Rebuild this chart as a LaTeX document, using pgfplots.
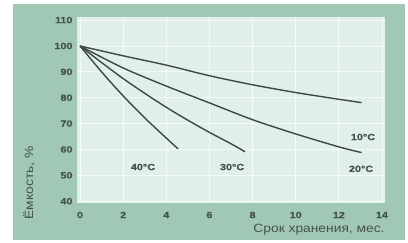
\documentclass[border=0pt]{standalone}
\usepackage{pgfplots}
\pgfplotsset{compat=1.18}
\usepackage{fontspec}
\setmainfont{Liberation Sans}
\newfontfamily\widesans[FakeStretch=1.15]{Liberation Sans}
\newfontfamily\widebold[FakeStretch=1.2,FakeBold=0.5]{Liberation Sans Bold}
\definecolor{outerg}{RGB}{160,200,180}
\definecolor{innerg}{RGB}{224,240,232}
\definecolor{txtg}{RGB}{70,82,76}
\definecolor{lineg}{RGB}{62,72,68}
\begin{document}
\begin{tikzpicture}
\useasboundingbox (0,0) rectangle (408bp,243bp);
\fill[white] (0,0) rectangle (408bp,243bp);
\fill[outerg] (13bp,3bp) rectangle (405bp,239bp);
\begin{axis}[
  at={(77bp,40bp)}, anchor=south west,
  scale only axis, width=308bp, height=186bp,
  xmin=-0.14, xmax=14.14, ymin=39.3, ymax=111.2,
  xtick={0,2,...,14}, ytick={40,50,...,110},
  axis background/.style={fill=innerg},
  axis line style={draw=none},
  major tick length=0pt,
  grid=major,
  major grid style={white, line width=0.8bp, opacity=0.7},
  /pgf/number format/assume math mode=true,
  tick label style={font=\fontsize{9bp}{10bp}\selectfont\widebold, text=txtg},
  xticklabel style={anchor=center, yshift=-12bp},
  yticklabel style={anchor=east, xshift=-1bp},
  xlabel={Срок хранения, мес.},
  ylabel={Ёмкость, \%},
  label style={font=\fontsize{12bp}{13bp}\selectfont\widesans, text=txtg},
  xlabel style={at={(axis description cs:1.01,-0.145)}, anchor=east},
  ylabel style={at={(axis description cs:-0.156,0.108)}, anchor=center},
  clip=false,
]
\addplot[lineg, line width=1.4bp, smooth] coordinates {
 (0,100) (2,96.2) (4,92.6) (6,88.5) (8,85) (10,82) (12,79.4) (13.05,78.1)};
\addplot[lineg, line width=1.4bp, smooth] coordinates {
 (0,100) (2,91.5) (4,84.5) (6,78) (8,71.5) (10,66) (12,61) (13.05,58.8)};
\addplot[lineg, line width=1.4bp, smooth] coordinates {
 (0,100) (1,93.6) (2,87.4) (3,81.7) (4,76.3) (5,71.3) (6,66.6) (7,62.2) (7.65,59.1)};
\addplot[lineg, line width=1.4bp, smooth] coordinates {
 (0,100) (1,90) (2,80.7) (3,72.2) (4,64.4) (4.55,60.2)};
\node[font=\fontsize{9bp}{10bp}\selectfont\widebold, text=txtg] at (axis cs:13.12,64.8) {10°C};
\node[font=\fontsize{9bp}{10bp}\selectfont\widebold, text=txtg] at (axis cs:13.03,52.5) {20°C};
\node[font=\fontsize{9bp}{10bp}\selectfont\widebold, text=txtg] at (axis cs:7.05,53.2) {30°C};
\node[font=\fontsize{9bp}{10bp}\selectfont\widebold, text=txtg] at (axis cs:2.92,53.2) {40°C};
\end{axis}
\end{tikzpicture}
\end{document}
